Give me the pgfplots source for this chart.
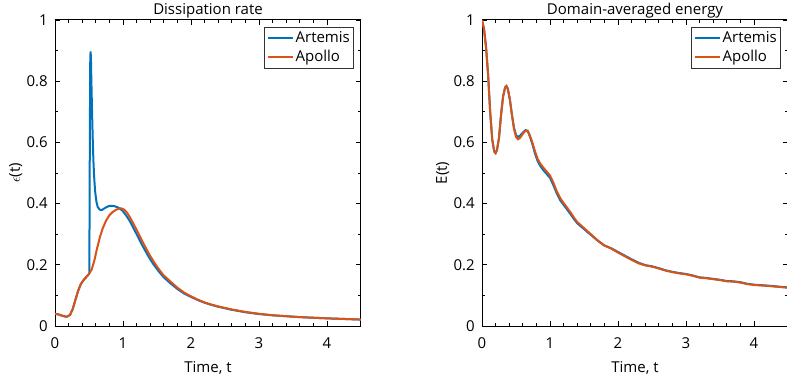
\documentclass[border=0pt]{standalone}
\usepackage{pgfplots}
\pgfplotsset{compat=1.18}
\usepackage{pgfplotstable}
\usepackage{fontspec}
\setmainfont{Open Sans}
\definecolor{mblue}{rgb}{0,0.447,0.741}
\definecolor{morange}{rgb}{0.85,0.325,0.098}

\pgfplotstableread{
t v
0 0.040
0.05 0.038
0.1 0.034
0.15 0.031
0.18 0.031
0.22 0.036
0.26 0.055
0.3 0.085
0.34 0.115
0.38 0.137
0.42 0.150
0.46 0.160
0.5 0.170
0.54 0.185
0.58 0.215
0.62 0.255
0.66 0.290
0.70 0.318
0.75 0.344
0.80 0.362
0.85 0.373
0.90 0.380
0.95 0.384
0.98 0.384
1.02 0.380
1.06 0.370
1.10 0.356
1.15 0.336
1.20 0.314
1.25 0.292
1.30 0.270
1.35 0.249
1.40 0.229
1.45 0.211
1.50 0.194
1.55 0.179
1.60 0.165
1.70 0.145
1.80 0.125
1.90 0.109
2.00 0.097
2.10 0.086
2.20 0.077
2.30 0.070
2.40 0.064
2.50 0.059
2.60 0.054
2.70 0.050
2.80 0.046
2.90 0.043
3.00 0.040
3.20 0.035
3.40 0.032
3.60 0.029
3.80 0.027
4.00 0.025
4.25 0.023
4.50 0.021
}\dissApollo

\pgfplotstableread{
t v
0 0.040
0.05 0.038
0.1 0.034
0.15 0.031
0.18 0.031
0.22 0.036
0.26 0.055
0.3 0.085
0.34 0.115
0.38 0.137
0.42 0.150
0.46 0.160
0.5 0.170
0.505 0.172
0.512 0.600
0.518 0.860
0.523 0.897
0.528 0.880
0.535 0.800
0.545 0.700
0.555 0.610
0.565 0.540
0.575 0.490
0.59 0.440
0.61 0.405
0.63 0.388
0.66 0.380
0.69 0.379
0.73 0.385
0.78 0.391
0.82 0.393
0.87 0.392
0.92 0.388
0.96 0.383
1.00 0.375
1.05 0.360
1.10 0.343
1.15 0.322
1.20 0.300
1.25 0.278
1.30 0.257
1.35 0.237
1.40 0.218
1.45 0.201
1.50 0.186
1.55 0.172
1.60 0.159
1.70 0.139
1.80 0.121
1.90 0.106
2.00 0.095
2.10 0.085
2.20 0.076
2.30 0.069
2.40 0.063
2.50 0.058
2.60 0.053
2.70 0.049
2.80 0.045
2.90 0.042
3.00 0.039
3.20 0.035
3.40 0.032
3.60 0.029
3.80 0.027
4.00 0.025
4.25 0.023
4.50 0.021
}\dissArtemis

\pgfplotstableread{
t v
0 1.0
0.03 0.97
0.06 0.91
0.09 0.82
0.12 0.70
0.15 0.61
0.18 0.570
0.20 0.565
0.22 0.575
0.25 0.615
0.28 0.69
0.31 0.75
0.34 0.78
0.36 0.784
0.38 0.775
0.41 0.74
0.44 0.69
0.47 0.645
0.50 0.618
0.53 0.610
0.56 0.615
0.60 0.628
0.64 0.638
0.67 0.638
0.70 0.625
0.74 0.600
0.78 0.570
0.82 0.545
0.86 0.530
0.90 0.518
0.95 0.505
1.00 0.492
1.05 0.468
1.10 0.440
1.15 0.418
1.20 0.402
1.25 0.387
1.30 0.372
1.35 0.355
1.40 0.340
1.45 0.330
1.50 0.320
1.55 0.310
1.60 0.300
1.70 0.280
1.80 0.263
1.90 0.253
2.00 0.240
2.10 0.228
2.20 0.216
2.30 0.205
2.40 0.198
2.50 0.194
2.60 0.188
2.70 0.181
2.80 0.176
2.90 0.172
3.00 0.169
3.10 0.164
3.20 0.158
3.30 0.156
3.40 0.153
3.50 0.150
3.60 0.146
3.70 0.145
3.80 0.142
3.90 0.137
4.00 0.134
4.20 0.131
4.40 0.127
4.50 0.125
}\enApollo

\pgfplotstableread{
t v
0 1.0
0.03 0.97
0.06 0.91
0.09 0.82
0.12 0.70
0.15 0.61
0.18 0.570
0.20 0.565
0.22 0.575
0.25 0.615
0.28 0.69
0.31 0.75
0.34 0.78
0.36 0.784
0.38 0.775
0.41 0.74
0.44 0.69
0.47 0.648
0.50 0.624
0.53 0.618
0.56 0.622
0.60 0.632
0.64 0.640
0.67 0.638
0.70 0.622
0.74 0.595
0.78 0.563
0.82 0.538
0.86 0.522
0.90 0.510
0.95 0.497
1.00 0.484
1.05 0.460
1.10 0.433
1.15 0.411
1.20 0.396
1.25 0.381
1.30 0.366
1.35 0.350
1.40 0.336
1.45 0.326
1.50 0.317
1.55 0.307
1.60 0.298
1.70 0.279
1.80 0.263
1.90 0.254
2.00 0.242
2.10 0.230
2.20 0.218
2.30 0.207
2.40 0.199
2.50 0.195
2.60 0.189
2.70 0.182
2.80 0.177
2.90 0.173
3.00 0.170
3.10 0.165
3.20 0.159
3.30 0.157
3.40 0.154
3.50 0.151
3.60 0.147
3.70 0.146
3.80 0.143
3.90 0.138
4.00 0.135
4.20 0.132
4.40 0.128
4.50 0.126
}\enArtemis

\begin{document}
\fontsize{15bp}{17bp}\selectfont
\begin{tikzpicture}
\pgfplotsset{
 every axis title/.style={at={(0.5,1)}, anchor=base, yshift=5bp,
    font=\fontsize{15bp}{17bp}\selectfont},
 myax/.style={
  scale only axis, width=306bp, height=306bp,
  xmin=0, xmax=4.5, ymin=0, ymax=1,
  xtick={0,1,2,3,4}, ytick={0,0.2,0.4,0.6,0.8,1},
  minor x tick num=4, minor y tick num=1,
  major tick length=5bp, minor tick length=3bp,
  tick style={black, line width=0.8bp},
  axis line style={black, line width=1bp},
  tick align=inside,
  /pgf/number format/assume math mode=true,
  ticklabel style={font=\fontsize{15bp}{17bp}\selectfont},
  xticklabel style={anchor=base, yshift=-22bp},
  yticklabel style={anchor=east, xshift=-2bp},
  label style={font=\fontsize{15bp}{17bp}\selectfont},
  xlabel style={at={(axis description cs:0.5,0)}, anchor=base, yshift=-46bp},
  ylabel style={at={(axis description cs:-0.115,0.5)}, anchor=base},
  legend style={at={(0.978,0.978)}, anchor=north east, draw=black!80,
    line width=0.8bp, font=\fontsize{15bp}{17bp}\selectfont,
    inner sep=2bp, row sep=2bp},
  legend cell align=left,
  legend image code/.code={\draw[##1, line width=2.2bp] (0bp,0bp) -- (25bp,0bp);},
  every axis plot/.append style={line width=2bp},
  xlabel={Time, t},
 }
}
\begin{axis}[myax, at={(55bp,55bp)}, anchor=south west,
  title={Dissipation rate}, ylabel={$\epsilon$(t)}]
\addplot[mblue] table[x=t,y=v] {\dissArtemis};
\addlegendentry{Artemis}
\addplot[morange] table[x=t,y=v] {\dissApollo};
\addlegendentry{Apollo}
\end{axis}
\begin{axis}[myax, at={(482bp,55bp)}, anchor=south west,
  title={Domain-averaged energy}, ylabel={E(t)}]
\addplot[mblue] table[x=t,y=v] {\enArtemis};
\addlegendentry{Artemis}
\addplot[morange] table[x=t,y=v] {\enApollo};
\addlegendentry{Apollo}
\end{axis}
\pgfresetboundingbox
\path[use as bounding box] (0,0) rectangle (787bp,381bp);
\end{tikzpicture}
\end{document}
